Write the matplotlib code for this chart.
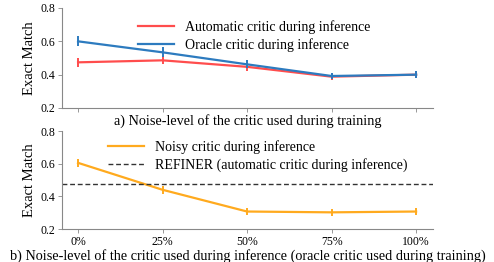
import matplotlib
matplotlib.use("Agg")
import matplotlib.pyplot as plt

plt.rcParams['font.family'] = ['Liberation Serif', 'DejaVu Serif']

noise_labels = ["0%", "25%", "50%", "75%", "100%"]
automatic = [0.474, 0.486, 0.447, 0.388, 0.400]
automatic_err = [0.027, 0.025, 0.025, 0.02, 0.02]
oracle = [0.600, 0.534, 0.462, 0.392, 0.400]
oracle_err = [0.03, 0.03, 0.025, 0.02, 0.02]
noisy = [0.605, 0.440, 0.307, 0.302, 0.307]
noisy_err = [0.025, 0.025, 0.02, 0.02, 0.02]
refiner = 0.478

x = list(range(len(noise_labels)))

fig = plt.figure(figsize=(4.94, 2.62), dpi=100)
ax1 = fig.add_axes([62/494, 1-108/262, (433-62)/494, 100/262])
ax2 = fig.add_axes([62/494, 1-229/262, (433-62)/494, 98/262])

red = '#FF4D4D'
blue = '#2D7BBF'
orange = '#FFAA1E'
gray = '#888888'

def series(ax, y, err, color, label):
    ax.plot(x, y, color=color, lw=1.6, label=label)
    ax.errorbar(x, y, yerr=err, fmt='none', ecolor=color, elinewidth=1.4)

series(ax1, automatic, automatic_err, red, 'Automatic critic during inference')
series(ax1, oracle, oracle_err, blue, 'Oracle critic during inference')
series(ax2, noisy, noisy_err, orange, 'Noisy critic during inference')
ax2.axhline(refiner, color='#333333', lw=1.0, ls=(0, (3.5, 2)),
            label='REFINER (automatic critic during inference)')

for ax in (ax1, ax2):
    ax.set_ylim(0.2, 0.8)
    ax.set_yticks([0.2, 0.4, 0.6, 0.8])
    ax.set_xticks(x)
    ax.set_xlim(-0.19, 4.2)
    for s in ('top', 'right'):
        ax.spines[s].set_visible(False)
    for s in ('left', 'bottom'):
        ax.spines[s].set_color(gray)
        ax.spines[s].set_linewidth(0.8)
    ax.tick_params(colors=gray, labelcolor='black', labelsize=8.5, length=3, width=0.6, pad=2)
    ax.set_ylabel('Exact Match', fontsize=10.5, labelpad=3)

ax1.tick_params(axis='x', labelbottom=False)
ax2.set_xticklabels(noise_labels)
ax1.set_xlabel('a) Noise-level of the critic used during training', fontsize=10.3, labelpad=1)
ax2.set_xlabel('b) Noise-level of the critic used during inference (oracle critic used during training)',
               fontsize=10.3, labelpad=1)

ax1.legend(frameon=False, fontsize=10, handlelength=2.6, loc='upper left',
           bbox_to_anchor=(0.17, 1.0), labelspacing=0.25)
ax2.legend(frameon=False, fontsize=10, handlelength=2.6, loc='upper left',
           bbox_to_anchor=(0.09, 1.03), labelspacing=0.25)

fig.savefig('out.png', dpi=100)
